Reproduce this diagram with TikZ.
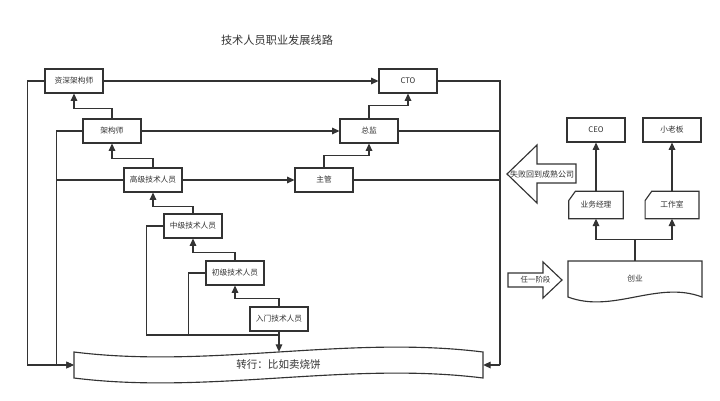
\documentclass[tikz,border=0pt]{standalone}
\usepackage{fontspec}
\setmainfont{Noto Sans CJK SC}
\usetikzlibrary{arrows.meta}
\definecolor{lc}{HTML}{333333}
\definecolor{tc}{HTML}{333333}
\begin{document}
\begin{tikzpicture}[x=0.75pt,y=-0.75pt,
  line/.style={draw=lc, line width=0.85pt},
  arr/.style={line, -{Triangle[length=5.5pt,width=5pt]}},
  box/.style={draw=lc, line width=0.85pt, fill=white, minimum width=43.5pt, minimum height=18pt, inner sep=0pt, font=\fontsize{5.8}{7}\selectfont, text=tc},
  plain/.style={draw=none, inner sep=0pt, text=tc},
]
\useasboundingbox (0,0) rectangle (720,400);

% title
\node[plain, font=\fontsize{8.4}{10}\selectfont] (title) at (277,40) {技术人员职业发展线路};

% left ladder
\node[box] (sz) at (74,81) {资深架构师};
\node[box] (jg) at (112,131) {架构师};
\node[box] (gj) at (153,180) {高级技术人员};
\node[box] (zj) at (193,226) {中级技术人员};
\node[box] (cj) at (235,273) {初级技术人员};
\node[box] (rm) at (279,319) {入门技术人员};

% management ladder
\node[box] (cto) at (408,81) {CTO};
\node[box] (zjian) at (369,131) {总监};
\node[box] (zg) at (324,180) {主管};

% right side
\node[box] (ceo) at (596,130) {CEO};
\node[box] (xlb) at (672,130) {小老板};
\node[plain, minimum width=40.5pt, minimum height=20.25pt, font=\fontsize{5.8}{7}\selectfont] (yw) at (596,205) {业务经理};
\node[plain, minimum width=40pt, minimum height=20.25pt, font=\fontsize{5.8}{7}\selectfont] (gzs) at (672,205) {工作室};
\draw[line] ([xshift=5pt]yw.north west) -- (yw.north east) -- (yw.south east) -- (yw.south west) -- ([yshift=-7pt]yw.north west) -- cycle;
\draw[line] ([xshift=5pt]gzs.north west) -- (gzs.north east) -- (gzs.south east) -- (gzs.south west) -- ([yshift=-7pt]gzs.north west) -- cycle;

% 创业 document shape
\draw[line, fill=white] (568,261) -- (702,261) -- (702,297) .. controls (657,280) and (613,314) .. (568,297) -- cycle;
\node[plain, font=\fontsize{5.8}{7}\selectfont, minimum width=100.5pt, minimum height=27pt] (cy) at (635,279) {创业};

% 转行 tape shape
\draw[line, fill=white] (74,352) .. controls (210,369) and (347,335) .. (483,352) -- (483,378) .. controls (347,361) and (210,395) .. (74,378) -- cycle;
\node[plain, font=\fontsize{7.9}{9}\selectfont, minimum width=306.75pt, minimum height=19.5pt] (zh) at (278.5,365) {转行：比如卖烧饼};

% big arrows
\draw[line, fill=white] (507,174) -- (537,145) -- (537,164) -- (576,164) -- (576,183) -- (537,183) -- (537,203) -- cycle;
\node[plain, font=\fontsize{6}{7}\selectfont] (fail) at (542,174) {失败回到成熟公司};
\draw[line, fill=white] (508,273) -- (543,273) -- (543,262) -- (562,280) -- (543,298) -- (543,287) -- (508,287) -- cycle;
\node[plain, font=\fontsize{5.6}{7}\selectfont] (anyst) at (535.5,280) {任一阶段};

% upward promotions
\draw[arr] (rm.north) -- ++(0,-8) -| (cj.south);
\draw[arr] (cj.north) -- ++(0,-8) -| (zj.south);
\draw[arr] (zj.north) -- ++(0,-7) -| (gj.south);
\draw[arr] (gj.north) -- ++(0,-9) -| (jg.south);
\draw[arr] (jg.north) -- ++(0,-10) -| (sz.south);
\draw[arr] (zg.north) -- ++(0,-12) -| (zjian.south);
\draw[arr] (zjian.north) -- ++(0,-13) -| (cto.south);

% cross arrows
\draw[arr] (sz.east) -- (cto.west);
\draw[arr] (jg.east) -- (zjian.west);
\draw[arr] (gj.east) -- (zg.west);

% right bus
\coordinate (r1) at (500,81);
\coordinate (r4) at (500,365);
\draw[line] (cto.east) -- (r1) -- (r4);
\draw[line] (zjian.east) -- (zjian.east -| r1);
\draw[line] (zg.east) -- (zg.east -| r1);
\draw[arr] (r4) -- (zh.east);

% left buses
\draw[arr] (sz.west) -- ++(-17,0) |- (zh.west);
\draw[arr] (jg.west) -- ++(-26,0) coordinate (l2) |- (zh.west);
\draw[line] (gj.west) -- (gj.west -| l2);

% bottom cluster
\coordinate (b) at (279,335);
\draw[line] (zj.west) -- ++(-17,0) |- (b);
\draw[line] (cj.west) -- ++(-17,0) |- (b);
\draw[arr] (rm.south) -- (rm.south |- zh.north);

% entrepreneurship
\draw[arr] (yw.north) -- (ceo.south);
\draw[arr] (gzs.north) -- (xlb.south);
\draw[line] (cy.north) -- ++(0,-21) coordinate (j);
\draw[arr] (j) -| (yw.south);
\draw[arr] (j) -| (gzs.south);
\end{tikzpicture}
\end{document}
